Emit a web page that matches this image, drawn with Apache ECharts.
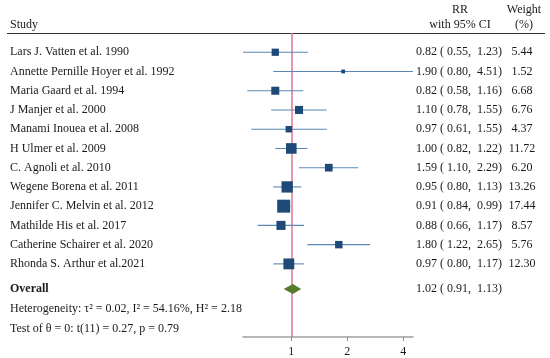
<!DOCTYPE html>
<html><head><meta charset="utf-8">
<script src="https://cdn.jsdelivr.net/npm/echarts@6/dist/echarts.min.js"></script>
<style>html,body{margin:0;padding:0;background:#fff}#c{width:550px;height:358px}</style>
</head><body><div id="c"></div>
<script>
const studies = [
  "Lars J. Vatten et al. 1990",
  "Annette Pernille Hoyer et al. 1992",
  "Maria Gaard et al. 1994",
  "J Manjer et al. 2000",
  "Manami Inouea et al. 2008",
  "H Ulmer et al. 2009",
  "C. Agnoli et al. 2010",
  "Wegene Borena et al. 2011",
  "Jennifer C. Melvin et al. 2012",
  "Mathilde His et al. 2017",
  "Catherine Schairer et al. 2020",
  "Rhonda S. Arthur et al.2021"
];
const rr     = [0.82, 1.90, 0.82, 1.10, 0.97, 1.00, 1.59, 0.95, 0.91, 0.88, 1.80, 0.97];
const lower  = [0.55, 0.80, 0.58, 0.78, 0.61, 0.82, 1.10, 0.80, 0.84, 0.66, 1.22, 0.80];
const upper  = [1.23, 4.51, 1.16, 1.55, 1.55, 1.22, 2.29, 1.13, 0.99, 1.17, 2.65, 1.17];
const weights= [5.44, 1.52, 6.68, 6.76, 4.37, 11.72, 6.20, 13.26, 17.44, 8.57, 5.76, 12.30];
const overallRR = 1.02, overallLo = 0.91, overallHi = 1.13;
const xTicks = [1, 2, 4];
const heteroText = "Heterogeneity: τ² = 0.02, I² = 54.16%, H² = 2.18";
const testText = "Test of θ = 0: t(11) = 0.27, p = 0.79";

const FONT = "'Liberation Serif','DejaVu Serif',serif";
const TXT = '#1a1a1a';
const rows = studies.map((s, i) => i + 1);
const overallRow = 13.3;

const chart = echarts.init(document.getElementById('c'), null, {renderer: 'canvas'});
const studyData = studies.map((s, i) => [rows[i], rr[i], lower[i], upper[i], weights[i]]);

chart.setOption({
  animation: false,
  grid: {left: 243, right: 137, top: 33, bottom: 20},
  xAxis: {
    type: 'log', logBase: 2, min: 0.55, max: 4.51, position: 'bottom',
    axisLine: {onZero: false, lineStyle: {color: '#a0a0a0', width: 1.5}},
    axisTick: {show: true, customValues: xTicks, length: 4, lineStyle: {color: '#909090', width: 1}},
    axisLabel: {customValues: xTicks, color: TXT, fontFamily: FONT, fontSize: 12, margin: 9},
    splitLine: {show: false}, minorTick: {show: false}
  },
  yAxis: {
    type: 'value', inverse: true, min: 0, max: 15.8,
    axisLine: {show: false}, axisTick: {show: false}, splitLine: {show: false},
    axisLabel: {show: false}
  },
  series: [
    {
      type: 'line', data: [], z: 1,
      markLine: {
        z: 1, silent: true, symbol: 'none', label: {show: false},
        lineStyle: {color: '#e07890', width: 1.5, type: 'solid'},
        data: [{xAxis: 1}]
      }
    },
    {
      type: 'custom', z: 3,
      encode: {x: [1, 2, 3], y: 0},
      data: studyData,
      renderItem(params, api) {
        const r = api.value(0), v = api.value(1), lo = api.value(2), hi = api.value(3), w = api.value(4);
        const p = api.coord([v, r]), a = api.coord([lo, r]), b = api.coord([hi, r]);
        const s = 3.1 * Math.sqrt(w);
        return {type: 'group', children: [
          {type: 'line', shape: {x1: a[0], y1: a[1], x2: b[0], y2: b[1]}, style: {stroke: '#5a87b3', lineWidth: 1.1}},
          {type: 'rect', shape: {x: p[0] - s / 2, y: p[1] - s / 2, width: s, height: s}, style: {fill: '#1f4a78'}}
        ]};
      }
    },
    {
      type: 'custom', z: 3,
      encode: {x: [1, 2, 3], y: 0},
      data: [[overallRow, overallRR, overallLo, overallHi]],
      renderItem(params, api) {
        const r = api.value(0), v = api.value(1), lo = api.value(2), hi = api.value(3);
        const p = api.coord([v, r]), a = api.coord([lo, r]), b = api.coord([hi, r]);
        const h = 5;
        return {type: 'polygon', shape: {points: [[a[0], a[1]], [p[0], p[1] - h], [b[0], b[1]], [p[0], p[1] + h]]},
          style: {fill: '#587a2c'}};
      }
    }
  ]
});

const g = [];
const txt = (x, y, text, opts = {}) => g.push({
  type: 'text', x, y, silent: true,
  style: Object.assign({text, fill: TXT, font: `12px ${FONT}`, verticalAlign: 'middle', align: 'left'}, opts)
});
txt(10, 25, 'Study');
txt(460, 10, 'RR', {align: 'center'});
txt(460, 25, 'with 95% CI', {align: 'center'});
txt(524, 10, 'Weight', {align: 'center'});
txt(524, 25, '(%)', {align: 'center'});
g.push({type: 'line', silent: true, shape: {x1: 7, y1: 33.5, x2: 545, y2: 33.5}, style: {stroke: '#333', lineWidth: 1.2}});
studies.forEach((s, i) => {
  const y = chart.convertToPixel({gridIndex: 0}, [1, rows[i]])[1];
  txt(10, y, s);
  txt(416, y, `${rr[i].toFixed(2)} ( ${lower[i].toFixed(2)},  ${upper[i].toFixed(2)})`);
  txt(522, y, weights[i].toFixed(2), {align: 'center'});
});
const yo = chart.convertToPixel({gridIndex: 0}, [1, overallRow])[1];
txt(10, yo, 'Overall', {font: `bold 12px ${FONT}`});
txt(416, yo, `${overallRR.toFixed(2)} ( ${overallLo.toFixed(2)},  ${overallHi.toFixed(2)})`);
txt(10, yo + 20, heteroText);
txt(10, yo + 40, testText);
chart.setOption({graphic: {elements: g}});
</script></body></html>
